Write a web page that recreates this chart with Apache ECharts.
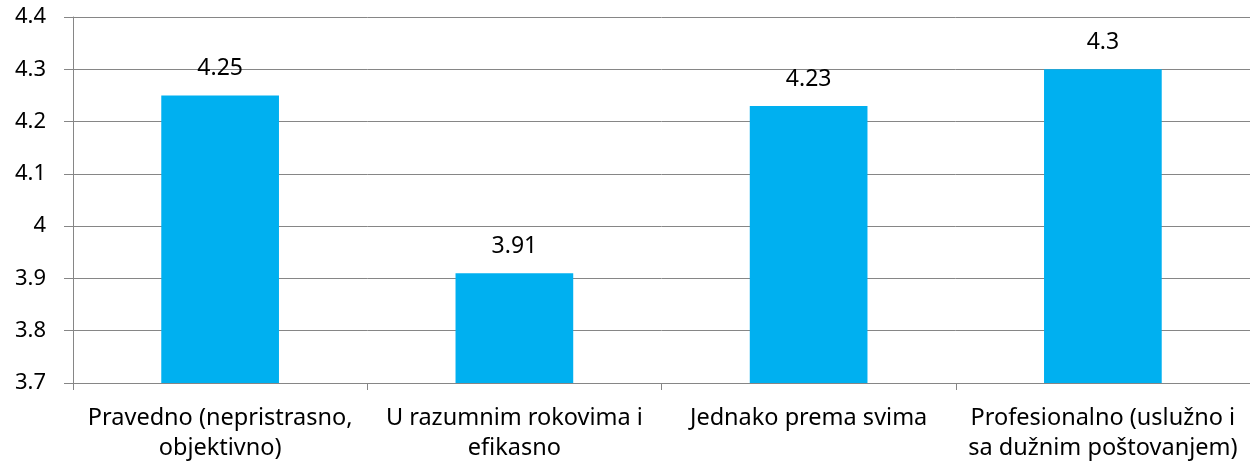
<!DOCTYPE html>
<html>
<head>
<meta charset="utf-8">
<script src="https://cdn.jsdelivr.net/npm/echarts@6/dist/echarts.min.js"></script>
<style>
  html, body { margin: 0; padding: 0; background: #fff; }
  #chart { width: 1250px; height: 467px; }
</style>
</head>
<body>
<div id="chart"></div>
<script>
// kategorije i prosječne ocjene
const categories = [
  "Pravedno (nepristrasno,\nobjektivno)",
  "U razumnim rokovima i\nefikasno",
  "Jednako prema svima",
  "Profesionalno (uslužno i\nsa dužnim poštovanjem)"
];
const values = [4.25, 3.91, 4.23, 4.3];

const font = "'Noto Sans', sans-serif";
const grey = "#868686";

const chart = echarts.init(document.getElementById("chart"));
chart.setOption({
  animation: false,
  grid: { left: 73, right: 0, top: 17, bottom: 84 },
  xAxis: {
    type: "category",
    data: categories,
    axisLine: { lineStyle: { color: grey, width: 1 } },
    axisTick: { show: true, length: 7, lineStyle: { color: grey } },
    axisLabel: {
      color: "#000",
      fontFamily: font,
      fontSize: 23.5,
      lineHeight: 30,
      margin: 20,
      interval: 0
    }
  },
  yAxis: {
    type: "value",
    min: 3.7,
    max: 4.4,
    interval: 0.1,
    axisLine: { show: true, lineStyle: { color: grey, width: 1 } },
    axisTick: { show: true, length: 9, lineStyle: { color: grey } },
    splitLine: { lineStyle: { color: grey, width: 1 } },
    axisLabel: {
      color: "#000",
      fontFamily: font,
      fontSize: 22,
      margin: 27,
      formatter: v => String(Math.round(v * 10) / 10)
    }
  },
  series: [{
    type: "bar",
    data: values,
    barWidth: "40%",
    itemStyle: { color: "#00B0F0" },
    label: {
      show: true,
      position: "top",
      distance: 15,
      color: "#000",
      fontFamily: font,
      fontSize: 23
    }
  }]
});
</script>
</body>
</html>
